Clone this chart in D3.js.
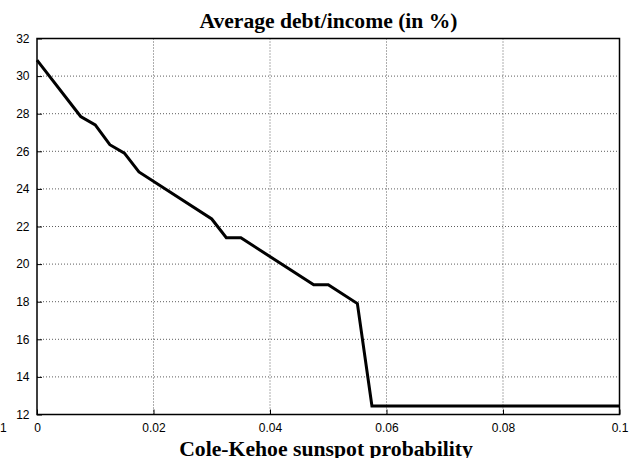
<!DOCTYPE html>
<html>
<head>
<meta charset="utf-8">
<script src="https://cdn.jsdelivr.net/npm/d3@7"></script>
<style>
  body { margin: 0; background: #fff; overflow: hidden; }
  svg { display: block; }
</style>
</head>
<body>
<div class="chart"></div>
<script>
// sunspot probability vs average debt/income
const probs = [0, 0.0075, 0.01, 0.0125, 0.015, 0.0175, 0.03, 0.0325, 0.035, 0.0475, 0.05, 0.055, 0.0575, 0.1];
const debt = [30.85, 27.85, 27.4, 26.35, 25.9, 24.9, 22.4, 21.4, 21.4, 18.9, 18.9, 17.9, 12.45, 12.45];
const xTicks = [0, 0.02, 0.04, 0.06, 0.08, 0.1];
const yTicks = [12, 14, 16, 18, 20, 22, 24, 26, 28, 30, 32];

const width = 642, height = 458;
const margin = {top: 38.5, right: 22.5, bottom: 43.5, left: 37};
const innerWidth = width - margin.left - margin.right;
const innerHeight = height - margin.top - margin.bottom;

const svg = d3.select('.chart').append('svg')
  .attr('width', width).attr('height', height);

const x = d3.scaleLinear().domain([0, 0.1]).range([0, innerWidth]);
const y = d3.scaleLinear().domain([12, 32]).range([innerHeight, 0]);

const g = svg.append('g')
  .attr('transform', `translate(${margin.left},${margin.top})`);

// grid
g.append('g')
  .selectAll('line').data(yTicks.slice(1, -1))
  .join('line')
  .attr('x1', 0).attr('x2', innerWidth)
  .attr('y1', d => y(d)).attr('y2', d => y(d))
  .attr('stroke', '#333').attr('stroke-width', 0.8).attr('stroke-dasharray', '1,2');

g.append('g')
  .selectAll('line').data(xTicks.slice(1, -1))
  .join('line')
  .attr('y1', 0).attr('y2', innerHeight)
  .attr('x1', d => x(d)).attr('x2', d => x(d))
  .attr('stroke', '#333').attr('stroke-width', 0.8).attr('stroke-dasharray', '1,2');

// axes
const fontTicks = 'Liberation Sans, Arial, sans-serif';
const xAxis = g.append('g')
  .attr('transform', `translate(0,${innerHeight})`)
  .call(d3.axisBottom(x).tickValues(xTicks).tickFormat(d => d === 0 ? '0' : d3.format('~g')(d))
    .tickSizeInner(-5).tickSizeOuter(0).tickPadding(9));
xAxis.select('.domain').remove();
xAxis.selectAll('text').attr('font-family', fontTicks).attr('font-size', 12).attr('fill', '#000');
xAxis.selectAll('line').attr('stroke', '#000');

const yAxis = g.append('g')
  .call(d3.axisLeft(y).tickValues(yTicks)
    .tickSizeInner(-5).tickSizeOuter(0).tickPadding(7.5));
yAxis.select('.domain').remove();
yAxis.selectAll('text').attr('font-family', fontTicks).attr('font-size', 12).attr('fill', '#000');
yAxis.selectAll('line').attr('stroke', '#000');

// stray label at the lower left, on the x tick row
svg.append('text')
  .attr('x', 0).attr('y', margin.top + innerHeight + 17.5)
  .attr('font-family', fontTicks).attr('font-size', 12)
  .text('1');

// data line
g.append('path')
  .datum(probs.map((p, i) => [p, debt[i]]))
  .attr('fill', 'none').attr('stroke', '#000').attr('stroke-width', 3)
  .attr('stroke-linejoin', 'miter')
  .attr('d', d3.line().x(d => x(d[0])).y(d => y(d[1])));

// frame
g.append('rect')
  .attr('width', innerWidth).attr('height', innerHeight)
  .attr('fill', 'none').attr('stroke', '#000').attr('stroke-width', 1.5);

// titles
svg.append('text')
  .attr('x', 328.5).attr('y', 28)
  .attr('text-anchor', 'middle')
  .attr('font-family', 'Liberation Serif, Times New Roman, serif')
  .attr('font-weight', 'bold').attr('font-size', 21.6)
  .text('Average debt/income (in %)');

svg.append('text')
  .attr('x', 326).attr('y', 456)
  .attr('text-anchor', 'middle')
  .attr('font-family', 'Liberation Serif, Times New Roman, serif')
  .attr('font-weight', 'bold').attr('font-size', 21.7)
  .text('Cole-Kehoe sunspot probability');
</script>
</body>
</html>
